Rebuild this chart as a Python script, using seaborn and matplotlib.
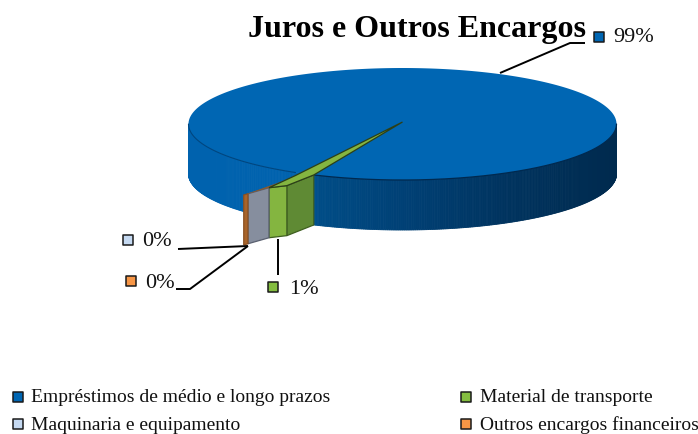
import numpy as np
import pandas as pd
import matplotlib.pyplot as plt
import seaborn as sns

title = 'Juros e Outros Encargos'
categories = ['Empréstimos de médio e longo prazos', 'Material de transporte',
              'Maquinaria e equipamento', 'Outros encargos financeiros']
shares = [99.0, 0.64, 0.30, 0.06]
pct_labels = ['99%', '1%', '0%', '0%']
key_colors = ['#0066B3', '#84BD40', '#C5D9F1', '#F79646']

sns.set_theme(style='white')
plt.rcParams['font.family'] = ['Liberation Serif', 'DejaVu Serif']

# pie layout in pixels
cx, cy, rx, ry, depth = 402.5, 124, 214, 56, 50
cut_angle = 114.5     # where the big slice ends, degrees, y downwards
neck_angle = 120.0
chord_step = np.array([-70.0, 20.0])  # how far the small slices reach per 1 %
green_bend = 0.6      # part of the green edge that is the dark side face
green_bulge = 3.0


def rim(deg):
    t = np.radians(deg)
    return cx + rx * np.cos(t), cy + ry * np.sin(t)


fig = plt.figure(figsize=(6.98, 4.34), dpi=100)
ax = fig.add_axes([0, 0, 1, 1])
ax.set_xlim(0, 698)
ax.set_ylim(434, 0)
ax.axis('off')

# side wall of the big slice, dark to the right
angles = np.linspace(0, 180, 361)
xs, ys = rim(angles)
ramp = sns.blend_palette(['#002A4E', '#003460', '#003E72', '#004C86', '#0062AE'], 5, as_cmap=True)
for i in range(len(angles) - 1):
    shade = np.interp(xs[i], [189, 300, 320, 420, 500, 616], [1, 1, 0.75, 0.5, 0.25, 0])
    ax.fill([xs[i], xs[i + 1], xs[i + 1], xs[i]],
            [ys[i], ys[i + 1], ys[i + 1] + depth, ys[i] + depth],
            color=ramp(float(shade)), lw=0.6, zorder=1)

# top face
a = np.linspace(0, 360, 361)
tx, ty = rim(a)
ax.fill(tx, ty, color='#0066B3', lw=0, zorder=2)
front = angles <= cut_angle
ax.plot(xs[front], ys[front], color='#00294F', lw=0.9, zorder=3)
front = angles >= neck_angle
ax.plot(xs[front], ys[front], color='#00467F', lw=0.8, zorder=3)

# small slices sit along a straight edge running out from the cut
start = np.array(rim(cut_angle))
green, grey, brown = shares[1:]
p0 = start
pb = start + chord_step * green * green_bend + [0, green_bulge]
p1 = start + chord_step * green
p2 = p1 + chord_step * grey
p3 = p2 + chord_step * brown
neck = np.array(rim(neck_angle))
apex = np.array([cx, cy - 2])


def wall(p, q, color, edge):
    ax.fill([p[0], q[0], q[0], p[0]], [p[1], q[1], q[1] + depth, p[1] + depth],
            facecolor=color, edgecolor=edge, lw=0.9, zorder=4)


wall(p0, pb, '#5F8A34', '#3F5F20')
wall(pb, p1, '#84B540', '#3F5F20')
wall(p1, p2, '#868E9E', '#5A6070')
wall(p2, p3, '#A8642A', '#8A4F20')
ax.fill([neck[0], p1[0], p3[0]], [neck[1] + 4, p1[1], p3[1]], color='#8A5A2E', lw=0, zorder=4)
ax.fill([apex[0], p0[0], pb[0], p1[0], neck[0]],
        [apex[1], p0[1], pb[1], p1[1], neck[1] + 3],
        facecolor='#84B540', edgecolor='#2C3F18', lw=0.9, zorder=5)

# leader lines
leaders = [([500, 570, 585], [73, 43, 43]),
           ([278, 278], [239, 275]),
           ([248, 178], [246, 249]),
           ([248, 190, 176], [246, 289, 289])]
for lx, ly in leaders:
    ax.plot(lx, ly, color='black', lw=1.4, zorder=6, solid_capstyle='butt')

# the little colour keys next to the labels and in the legend
key_df = pd.DataFrame({
    'x': [599, 273, 128, 131, 18, 466, 18, 466],
    'y': [37, 287, 240, 281, 397, 397, 424, 424],
    'cat': [categories[0], categories[1], categories[2], categories[3],
            categories[0], categories[1], categories[2], categories[3]],
})
sns.scatterplot(data=key_df, x='x', y='y', hue='cat', hue_order=categories,
                palette=key_colors, marker='s', s=50, edgecolor='#1A1A1A',
                linewidth=1.1, legend=False, ax=ax, zorder=7)
ax.set_xlabel('')
ax.set_ylabel('')

ax.text(416.5, 29, title, fontsize=23, fontweight='bold', ha='center', va='center', color='black')
label_pos = [(613, 38), (289, 289), (142, 242), (145, 284)]
for (lx, ly), txt in zip(label_pos, pct_labels):
    ax.text(lx, ly, txt, fontsize=16, ha='left', va='center', color='#111111')

legend_pos = [(31, 398), (480, 398), (31, 425), (480, 425)]
for (lx, ly), txt in zip(legend_pos, categories):
    ax.text(lx, ly, txt, fontsize=14, ha='left', va='center', color='#111111')

fig.savefig('out.png', dpi=100)
